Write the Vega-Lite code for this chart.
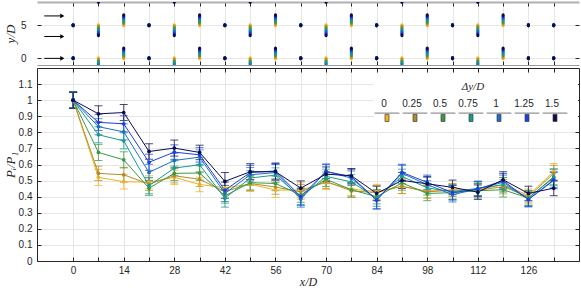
{
  "$schema": "https://vega.github.io/schema/vega-lite/v6.json",
  "padding": {"left": 4, "top": 1, "right": 0, "bottom": 0},
  "background": "white",
  "spacing": 1,
  "config": {
    "view": {"stroke": null},
    "font": "Liberation Sans",
    "axis": {
      "labelFont": "Liberation Sans", "labelFontSize": 10, "labelColor": "#262626",
      "tickColor": "#262626", "domainColor": "#262626", "gridColor": "#e6e6e6",
      "titleFont": "Liberation Serif", "titleFontStyle": "italic", "titleFontWeight": "normal",
      "titleFontSize": 13, "titleColor": "#262626", "tickSize": -4, "domainWidth": 1, "tickWidth": 1,
      "labelOverlap": false
    }
  },
  "resolve": {"scale": {"color": "independent"}, "legend": {"color": "independent"}},
  "datasets": {
    "cyl": [
      {"x":0,"s":"0","y":0},{"x":0,"s":"0","y":5},{"x":7,"s":"0","y":0},{"x":7,"s":"0","y":5},{"x":14,"s":"0","y":0},{"x":14,"s":"0","y":5},{"x":21,"s":"0","y":0},{"x":21,"s":"0","y":5},{"x":28,"s":"0","y":0},{"x":28,"s":"0","y":5},{"x":35,"s":"0","y":0},{"x":35,"s":"0","y":5},{"x":42,"s":"0","y":0},{"x":42,"s":"0","y":5},{"x":49,"s":"0","y":0},{"x":49,"s":"0","y":5},{"x":56,"s":"0","y":0},{"x":56,"s":"0","y":5},{"x":63,"s":"0","y":0},{"x":63,"s":"0","y":5},{"x":70,"s":"0","y":0},{"x":70,"s":"0","y":5},{"x":77,"s":"0","y":0},{"x":77,"s":"0","y":5},{"x":84,"s":"0","y":0},{"x":84,"s":"0","y":5},{"x":91,"s":"0","y":0},{"x":91,"s":"0","y":5},{"x":98,"s":"0","y":0},{"x":98,"s":"0","y":5},{"x":105,"s":"0","y":0},{"x":105,"s":"0","y":5},{"x":112,"s":"0","y":0},{"x":112,"s":"0","y":5},{"x":119,"s":"0","y":0},{"x":119,"s":"0","y":5},{"x":126,"s":"0","y":0},{"x":126,"s":"0","y":5},{"x":133,"s":"0","y":0},{"x":133,"s":"0","y":5},
      {"x":0,"s":"0.25","y":0},{"x":0,"s":"0.25","y":5},{"x":7,"s":"0.25","y":-0.25},{"x":7,"s":"0.25","y":4.75},{"x":14,"s":"0.25","y":0.25},{"x":14,"s":"0.25","y":5.25},{"x":21,"s":"0.25","y":0},{"x":21,"s":"0.25","y":5},{"x":28,"s":"0.25","y":-0.25},{"x":28,"s":"0.25","y":4.75},{"x":35,"s":"0.25","y":0.25},{"x":35,"s":"0.25","y":5.25},{"x":42,"s":"0.25","y":0},{"x":42,"s":"0.25","y":5},{"x":49,"s":"0.25","y":-0.25},{"x":49,"s":"0.25","y":4.75},{"x":56,"s":"0.25","y":0.25},{"x":56,"s":"0.25","y":5.25},{"x":63,"s":"0.25","y":0},{"x":63,"s":"0.25","y":5},{"x":70,"s":"0.25","y":-0.25},{"x":70,"s":"0.25","y":4.75},{"x":77,"s":"0.25","y":0.25},{"x":77,"s":"0.25","y":5.25},{"x":84,"s":"0.25","y":0},{"x":84,"s":"0.25","y":5},{"x":91,"s":"0.25","y":-0.25},{"x":91,"s":"0.25","y":4.75},{"x":98,"s":"0.25","y":0.25},{"x":98,"s":"0.25","y":5.25},{"x":105,"s":"0.25","y":0},{"x":105,"s":"0.25","y":5},{"x":112,"s":"0.25","y":-0.25},{"x":112,"s":"0.25","y":4.75},{"x":119,"s":"0.25","y":0.25},{"x":119,"s":"0.25","y":5.25},{"x":126,"s":"0.25","y":0},{"x":126,"s":"0.25","y":5},{"x":133,"s":"0.25","y":0},{"x":133,"s":"0.25","y":5},
      {"x":0,"s":"0.5","y":0},{"x":0,"s":"0.5","y":5},{"x":7,"s":"0.5","y":-0.5},{"x":7,"s":"0.5","y":4.5},{"x":14,"s":"0.5","y":0.5},{"x":14,"s":"0.5","y":5.5},{"x":21,"s":"0.5","y":0},{"x":21,"s":"0.5","y":5},{"x":28,"s":"0.5","y":-0.5},{"x":28,"s":"0.5","y":4.5},{"x":35,"s":"0.5","y":0.5},{"x":35,"s":"0.5","y":5.5},{"x":42,"s":"0.5","y":0},{"x":42,"s":"0.5","y":5},{"x":49,"s":"0.5","y":-0.5},{"x":49,"s":"0.5","y":4.5},{"x":56,"s":"0.5","y":0.5},{"x":56,"s":"0.5","y":5.5},{"x":63,"s":"0.5","y":0},{"x":63,"s":"0.5","y":5},{"x":70,"s":"0.5","y":-0.5},{"x":70,"s":"0.5","y":4.5},{"x":77,"s":"0.5","y":0.5},{"x":77,"s":"0.5","y":5.5},{"x":84,"s":"0.5","y":0},{"x":84,"s":"0.5","y":5},{"x":91,"s":"0.5","y":-0.5},{"x":91,"s":"0.5","y":4.5},{"x":98,"s":"0.5","y":0.5},{"x":98,"s":"0.5","y":5.5},{"x":105,"s":"0.5","y":0},{"x":105,"s":"0.5","y":5},{"x":112,"s":"0.5","y":-0.5},{"x":112,"s":"0.5","y":4.5},{"x":119,"s":"0.5","y":0.5},{"x":119,"s":"0.5","y":5.5},{"x":126,"s":"0.5","y":0},{"x":126,"s":"0.5","y":5},{"x":133,"s":"0.5","y":0},{"x":133,"s":"0.5","y":5},
      {"x":0,"s":"0.75","y":0},{"x":0,"s":"0.75","y":5},{"x":7,"s":"0.75","y":-0.75},{"x":7,"s":"0.75","y":4.25},{"x":14,"s":"0.75","y":0.75},{"x":14,"s":"0.75","y":5.75},{"x":21,"s":"0.75","y":0},{"x":21,"s":"0.75","y":5},{"x":28,"s":"0.75","y":-0.75},{"x":28,"s":"0.75","y":4.25},{"x":35,"s":"0.75","y":0.75},{"x":35,"s":"0.75","y":5.75},{"x":42,"s":"0.75","y":0},{"x":42,"s":"0.75","y":5},{"x":49,"s":"0.75","y":-0.75},{"x":49,"s":"0.75","y":4.25},{"x":56,"s":"0.75","y":0.75},{"x":56,"s":"0.75","y":5.75},{"x":63,"s":"0.75","y":0},{"x":63,"s":"0.75","y":5},{"x":70,"s":"0.75","y":-0.75},{"x":70,"s":"0.75","y":4.25},{"x":77,"s":"0.75","y":0.75},{"x":77,"s":"0.75","y":5.75},{"x":84,"s":"0.75","y":0},{"x":84,"s":"0.75","y":5},{"x":91,"s":"0.75","y":-0.75},{"x":91,"s":"0.75","y":4.25},{"x":98,"s":"0.75","y":0.75},{"x":98,"s":"0.75","y":5.75},{"x":105,"s":"0.75","y":0},{"x":105,"s":"0.75","y":5},{"x":112,"s":"0.75","y":-0.75},{"x":112,"s":"0.75","y":4.25},{"x":119,"s":"0.75","y":0.75},{"x":119,"s":"0.75","y":5.75},{"x":126,"s":"0.75","y":0},{"x":126,"s":"0.75","y":5},{"x":133,"s":"0.75","y":0},{"x":133,"s":"0.75","y":5},
      {"x":0,"s":"1","y":0},{"x":0,"s":"1","y":5},{"x":7,"s":"1","y":-1},{"x":7,"s":"1","y":4},{"x":14,"s":"1","y":1},{"x":14,"s":"1","y":6},{"x":21,"s":"1","y":0},{"x":21,"s":"1","y":5},{"x":28,"s":"1","y":-1},{"x":28,"s":"1","y":4},{"x":35,"s":"1","y":1},{"x":35,"s":"1","y":6},{"x":42,"s":"1","y":0},{"x":42,"s":"1","y":5},{"x":49,"s":"1","y":-1},{"x":49,"s":"1","y":4},{"x":56,"s":"1","y":1},{"x":56,"s":"1","y":6},{"x":63,"s":"1","y":0},{"x":63,"s":"1","y":5},{"x":70,"s":"1","y":-1},{"x":70,"s":"1","y":4},{"x":77,"s":"1","y":1},{"x":77,"s":"1","y":6},{"x":84,"s":"1","y":0},{"x":84,"s":"1","y":5},{"x":91,"s":"1","y":-1},{"x":91,"s":"1","y":4},{"x":98,"s":"1","y":1},{"x":98,"s":"1","y":6},{"x":105,"s":"1","y":0},{"x":105,"s":"1","y":5},{"x":112,"s":"1","y":-1},{"x":112,"s":"1","y":4},{"x":119,"s":"1","y":1},{"x":119,"s":"1","y":6},{"x":126,"s":"1","y":0},{"x":126,"s":"1","y":5},{"x":133,"s":"1","y":0},{"x":133,"s":"1","y":5},
      {"x":0,"s":"1.25","y":0},{"x":0,"s":"1.25","y":5},{"x":7,"s":"1.25","y":3.75},{"x":7,"s":"1.25","y":8.75},{"x":14,"s":"1.25","y":1.25},{"x":14,"s":"1.25","y":6.25},{"x":21,"s":"1.25","y":0},{"x":21,"s":"1.25","y":5},{"x":28,"s":"1.25","y":3.75},{"x":28,"s":"1.25","y":8.75},{"x":35,"s":"1.25","y":1.25},{"x":35,"s":"1.25","y":6.25},{"x":42,"s":"1.25","y":0},{"x":42,"s":"1.25","y":5},{"x":49,"s":"1.25","y":3.75},{"x":49,"s":"1.25","y":8.75},{"x":56,"s":"1.25","y":1.25},{"x":56,"s":"1.25","y":6.25},{"x":63,"s":"1.25","y":0},{"x":63,"s":"1.25","y":5},{"x":70,"s":"1.25","y":3.75},{"x":70,"s":"1.25","y":8.75},{"x":77,"s":"1.25","y":1.25},{"x":77,"s":"1.25","y":6.25},{"x":84,"s":"1.25","y":0},{"x":84,"s":"1.25","y":5},{"x":91,"s":"1.25","y":3.75},{"x":91,"s":"1.25","y":8.75},{"x":98,"s":"1.25","y":1.25},{"x":98,"s":"1.25","y":6.25},{"x":105,"s":"1.25","y":0},{"x":105,"s":"1.25","y":5},{"x":112,"s":"1.25","y":3.75},{"x":112,"s":"1.25","y":8.75},{"x":119,"s":"1.25","y":1.25},{"x":119,"s":"1.25","y":6.25},{"x":126,"s":"1.25","y":0},{"x":126,"s":"1.25","y":5},{"x":133,"s":"1.25","y":0},{"x":133,"s":"1.25","y":5},
      {"x":0,"s":"1.5","y":0},{"x":0,"s":"1.5","y":5},{"x":7,"s":"1.5","y":3.5},{"x":7,"s":"1.5","y":8.5},{"x":14,"s":"1.5","y":1.5},{"x":14,"s":"1.5","y":6.5},{"x":21,"s":"1.5","y":0},{"x":21,"s":"1.5","y":5},{"x":28,"s":"1.5","y":3.5},{"x":28,"s":"1.5","y":8.5},{"x":35,"s":"1.5","y":1.5},{"x":35,"s":"1.5","y":6.5},{"x":42,"s":"1.5","y":0},{"x":42,"s":"1.5","y":5},{"x":49,"s":"1.5","y":3.5},{"x":49,"s":"1.5","y":8.5},{"x":56,"s":"1.5","y":1.5},{"x":56,"s":"1.5","y":6.5},{"x":63,"s":"1.5","y":0},{"x":63,"s":"1.5","y":5},{"x":70,"s":"1.5","y":3.5},{"x":70,"s":"1.5","y":8.5},{"x":77,"s":"1.5","y":1.5},{"x":77,"s":"1.5","y":6.5},{"x":84,"s":"1.5","y":0},{"x":84,"s":"1.5","y":5},{"x":91,"s":"1.5","y":3.5},{"x":91,"s":"1.5","y":8.5},{"x":98,"s":"1.5","y":1.5},{"x":98,"s":"1.5","y":6.5},{"x":105,"s":"1.5","y":0},{"x":105,"s":"1.5","y":5},{"x":112,"s":"1.5","y":3.5},{"x":112,"s":"1.5","y":8.5},{"x":119,"s":"1.5","y":1.5},{"x":119,"s":"1.5","y":6.5},{"x":126,"s":"1.5","y":0},{"x":126,"s":"1.5","y":5},{"x":133,"s":"1.5","y":0},{"x":133,"s":"1.5","y":5}
    ],
    "arrows": [
      {"xa": -8, "xb": -3, "y": 6.4},
      {"xa": -8, "xb": -3, "y": 3.3},
      {"xa": -8, "xb": -3, "y": 0}
    ],
    "meas": [
      {"s":"0","x":0,"y":1.0,"e":0.05},{"s":"0","x":7,"y":0.52,"e":0.05},{"s":"0","x":14,"y":0.493,"e":0.046},{"s":"0","x":21,"y":0.49,"e":0.04},{"s":"0","x":28,"y":0.52,"e":0.045},{"s":"0","x":35,"y":0.476,"e":0.045},{"s":"0","x":42,"y":0.455,"e":0.04},{"s":"0","x":49,"y":0.478,"e":0.045},{"s":"0","x":56,"y":0.441,"e":0.045},{"s":"0","x":63,"y":0.441,"e":0.045},{"s":"0","x":70,"y":0.489,"e":0.045},{"s":"0","x":77,"y":0.447,"e":0.04},{"s":"0","x":84,"y":0.432,"e":0.045},{"s":"0","x":91,"y":0.464,"e":0.045},{"s":"0","x":98,"y":0.435,"e":0.04},{"s":"0","x":105,"y":0.443,"e":0.04},{"s":"0","x":112,"y":0.443,"e":0.04},{"s":"0","x":119,"y":0.475,"e":0.045},{"s":"0","x":126,"y":0.408,"e":0.04},{"s":"0","x":133,"y":0.556,"e":0.05},
      {"s":"0.25","x":0,"y":1.0,"e":0.05},{"s":"0.25","x":7,"y":0.545,"e":0.045},{"s":"0.25","x":14,"y":0.536,"e":0.046},{"s":"0.25","x":21,"y":0.478,"e":0.04},{"s":"0.25","x":28,"y":0.53,"e":0.045},{"s":"0.25","x":35,"y":0.508,"e":0.045},{"s":"0.25","x":42,"y":0.43,"e":0.04},{"s":"0.25","x":49,"y":0.482,"e":0.045},{"s":"0.25","x":56,"y":0.46,"e":0.045},{"s":"0.25","x":63,"y":0.43,"e":0.045},{"s":"0.25","x":70,"y":0.495,"e":0.045},{"s":"0.25","x":77,"y":0.436,"e":0.04},{"s":"0.25","x":84,"y":0.425,"e":0.045},{"s":"0.25","x":91,"y":0.465,"e":0.045},{"s":"0.25","x":98,"y":0.43,"e":0.04},{"s":"0.25","x":105,"y":0.44,"e":0.04},{"s":"0.25","x":112,"y":0.44,"e":0.04},{"s":"0.25","x":119,"y":0.462,"e":0.045},{"s":"0.25","x":126,"y":0.40,"e":0.04},{"s":"0.25","x":133,"y":0.545,"e":0.05},
      {"s":"0.5","x":0,"y":1.0,"e":0.05},{"s":"0.5","x":7,"y":0.675,"e":0.05},{"s":"0.5","x":14,"y":0.629,"e":0.05},{"s":"0.5","x":21,"y":0.453,"e":0.045},{"s":"0.5","x":28,"y":0.545,"e":0.045},{"s":"0.5","x":35,"y":0.547,"e":0.045},{"s":"0.5","x":42,"y":0.405,"e":0.045},{"s":"0.5","x":49,"y":0.487,"e":0.045},{"s":"0.5","x":56,"y":0.482,"e":0.045},{"s":"0.5","x":63,"y":0.41,"e":0.045},{"s":"0.5","x":70,"y":0.508,"e":0.045},{"s":"0.5","x":77,"y":0.443,"e":0.045},{"s":"0.5","x":84,"y":0.40,"e":0.045},{"s":"0.5","x":91,"y":0.485,"e":0.045},{"s":"0.5","x":98,"y":0.42,"e":0.045},{"s":"0.5","x":105,"y":0.425,"e":0.045},{"s":"0.5","x":112,"y":0.437,"e":0.045},{"s":"0.5","x":119,"y":0.443,"e":0.045},{"s":"0.5","x":126,"y":0.392,"e":0.045},{"s":"0.5","x":133,"y":0.518,"e":0.05},
      {"s":"0.75","x":0,"y":1.0,"e":0.05},{"s":"0.75","x":7,"y":0.785,"e":0.05},{"s":"0.75","x":14,"y":0.747,"e":0.05},{"s":"0.75","x":21,"y":0.468,"e":0.05},{"s":"0.75","x":28,"y":0.578,"e":0.045},{"s":"0.75","x":35,"y":0.598,"e":0.045},{"s":"0.75","x":42,"y":0.39,"e":0.055},{"s":"0.75","x":49,"y":0.516,"e":0.045},{"s":"0.75","x":56,"y":0.534,"e":0.045},{"s":"0.75","x":63,"y":0.395,"e":0.05},{"s":"0.75","x":70,"y":0.526,"e":0.045},{"s":"0.75","x":77,"y":0.492,"e":0.045},{"s":"0.75","x":84,"y":0.39,"e":0.05},{"s":"0.75","x":91,"y":0.526,"e":0.045},{"s":"0.75","x":98,"y":0.455,"e":0.045},{"s":"0.75","x":105,"y":0.43,"e":0.045},{"s":"0.75","x":112,"y":0.452,"e":0.045},{"s":"0.75","x":119,"y":0.474,"e":0.045},{"s":"0.75","x":126,"y":0.39,"e":0.045},{"s":"0.75","x":133,"y":0.524,"e":0.05},
      {"s":"1","x":0,"y":1.0,"e":0.05},{"s":"1","x":7,"y":0.835,"e":0.05},{"s":"1","x":14,"y":0.803,"e":0.05},{"s":"1","x":21,"y":0.551,"e":0.05},{"s":"1","x":28,"y":0.625,"e":0.045},{"s":"1","x":35,"y":0.646,"e":0.045},{"s":"1","x":42,"y":0.42,"e":0.05},{"s":"1","x":49,"y":0.536,"e":0.045},{"s":"1","x":56,"y":0.55,"e":0.05},{"s":"1","x":63,"y":0.385,"e":0.05},{"s":"1","x":70,"y":0.558,"e":0.045},{"s":"1","x":77,"y":0.515,"e":0.045},{"s":"1","x":84,"y":0.38,"e":0.055},{"s":"1","x":91,"y":0.545,"e":0.05},{"s":"1","x":98,"y":0.475,"e":0.045},{"s":"1","x":105,"y":0.412,"e":0.045},{"s":"1","x":112,"y":0.45,"e":0.045},{"s":"1","x":119,"y":0.489,"e":0.045},{"s":"1","x":126,"y":0.383,"e":0.045},{"s":"1","x":133,"y":0.50,"e":0.05},
      {"s":"1.25","x":0,"y":1.0,"e":0.05},{"s":"1.25","x":7,"y":0.862,"e":0.05},{"s":"1.25","x":14,"y":0.853,"e":0.05},{"s":"1.25","x":21,"y":0.614,"e":0.05},{"s":"1.25","x":28,"y":0.677,"e":0.045},{"s":"1.25","x":35,"y":0.66,"e":0.045},{"s":"1.25","x":42,"y":0.44,"e":0.05},{"s":"1.25","x":49,"y":0.55,"e":0.045},{"s":"1.25","x":56,"y":0.56,"e":0.05},{"s":"1.25","x":63,"y":0.40,"e":0.05},{"s":"1.25","x":70,"y":0.556,"e":0.045},{"s":"1.25","x":77,"y":0.525,"e":0.045},{"s":"1.25","x":84,"y":0.378,"e":0.055},{"s":"1.25","x":91,"y":0.551,"e":0.05},{"s":"1.25","x":98,"y":0.489,"e":0.045},{"s":"1.25","x":105,"y":0.425,"e":0.045},{"s":"1.25","x":112,"y":0.447,"e":0.045},{"s":"1.25","x":119,"y":0.499,"e":0.045},{"s":"1.25","x":126,"y":0.382,"e":0.045},{"s":"1.25","x":133,"y":0.505,"e":0.05},
      {"s":"1.5","x":0,"y":1.0,"e":0.05},{"s":"1.5","x":7,"y":0.915,"e":0.05},{"s":"1.5","x":14,"y":0.923,"e":0.05},{"s":"1.5","x":21,"y":0.681,"e":0.048},{"s":"1.5","x":28,"y":0.702,"e":0.05},{"s":"1.5","x":35,"y":0.675,"e":0.045},{"s":"1.5","x":42,"y":0.495,"e":0.055},{"s":"1.5","x":49,"y":0.555,"e":0.05},{"s":"1.5","x":56,"y":0.555,"e":0.05},{"s":"1.5","x":63,"y":0.453,"e":0.045},{"s":"1.5","x":70,"y":0.54,"e":0.045},{"s":"1.5","x":77,"y":0.53,"e":0.045},{"s":"1.5","x":84,"y":0.42,"e":0.045},{"s":"1.5","x":91,"y":0.501,"e":0.05},{"s":"1.5","x":98,"y":0.48,"e":0.045},{"s":"1.5","x":105,"y":0.458,"e":0.045},{"s":"1.5","x":112,"y":0.428,"e":0.045},{"s":"1.5","x":119,"y":0.505,"e":0.05},{"s":"1.5","x":126,"y":0.42,"e":0.045},{"s":"1.5","x":133,"y":0.453,"e":0.047}
    ]
  },
  "vconcat": [
    {
      "width": 542,
      "height": 63,
      "layer": [
        {
          "data": {"name": "cyl"},
          "mark": {"type": "point", "filled": true, "clip": true, "opacity": 1,
                   "shape": "M-0.8,0A0.8,1,0,1,0,0.8,0A0.8,1,0,1,0,-0.8,0Z", "size": 16},
          "encoding": {
            "x": {"field": "x", "type": "quantitative",
                  "scale": {"domain": [-10, 140], "nice": false, "zero": false},
                  "axis": {"orient": "bottom", "values": [0,7,14,21,28,35,42,49,56,63,70,77,84,91,98,105,112,119,126,133],
                           "labels": false, "grid": true, "title": null, "domainColor": "#9a9a9a"}},
            "y": {"field": "y", "type": "quantitative",
                  "scale": {"domain": [-1, 8.5], "nice": false, "zero": false},
                  "axis": {"orient": "left", "values": [0, 5], "grid": true, "domain": false,
                           "title": "y/D", "labelPadding": 15, "titlePadding": 3}},
            "color": {"field": "s", "type": "nominal",
                      "scale": {"domain": ["0","0.25","0.5","0.75","1","1.25","1.5"],
                                "range": ["#F2B01E","#B38C2A","#3A9A3F","#159A8E","#1C6FC6","#1B3FE0","#0C0C4E"]},
                      "legend": null}
          }
        },
        {
          "data": {"name": "arrows"},
          "mark": {"type": "rule", "color": "#000000", "strokeWidth": 1},
          "encoding": {
            "x": {"field": "xa", "type": "quantitative",
                  "scale": {"domain": [-10, 140], "nice": false, "zero": false},
                  "axis": {"orient": "top", "values": [0,7,14,21,28,35,42,49,56,63,70,77,84,91,98,105,112,119,126,133],
                           "labels": false, "grid": false, "title": null, "domainColor": "#b0b0b0", "domainWidth": 2}},
            "x2": {"field": "xb"},
            "y": {"field": "y", "type": "quantitative",
                  "scale": {"domain": [-1, 8.5], "nice": false, "zero": false},
                  "axis": {"orient": "right", "values": [0, 5], "labels": false, "grid": false, "domain": false, "title": null}}
          }
        },
        {
          "data": {"name": "arrows"},
          "mark": {"type": "point", "shape": "triangle-right", "filled": true, "color": "#000000", "size": 22, "opacity": 1},
          "encoding": {
            "x": {"field": "xb", "type": "quantitative", "scale": {"domain": [-10, 140], "nice": false, "zero": false}, "axis": null},
            "y": {"field": "y", "type": "quantitative", "scale": {"domain": [-1, 8.5], "nice": false, "zero": false}, "axis": null}
          }
        }
      ],
      "resolve": {"axis": {"x": "independent", "y": "independent"}}
    },
    {
      "width": 542,
      "height": 193,
      "data": {"name": "meas"},
      "layer": [
        {
          "mark": {"type": "errorbar", "ticks": {"size": 8}, "thickness": 1, "opacity": 0.75},
          "encoding": {
            "x": {"field": "x", "type": "quantitative", "scale": {"domain": [-10, 140], "nice": false, "zero": false}, "axis": null},
            "y": {"field": "y", "type": "quantitative", "scale": {"domain": [0, 1.2], "nice": false, "zero": true}, "axis": null},
            "yError": {"field": "e"},
            "color": {"field": "s", "type": "nominal",
                      "scale": {"domain": ["0","0.25","0.5","0.75","1","1.25","1.5"],
                                "range": ["#F2B01E","#B38C2A","#3A9A3F","#159A8E","#1C6FC6","#1B3FE0","#0C0C4E"]},
                      "legend": null}
          }
        },
        {
          "mark": {"type": "line", "strokeWidth": 1},
          "encoding": {
            "x": {"field": "x", "type": "quantitative", "scale": {"domain": [-10, 140], "nice": false, "zero": false},
                  "axis": {"orient": "bottom", "values": [0,7,14,21,28,35,42,49,56,63,70,77,84,91,98,105,112,119,126,133],
                           "labelExpr": "datum.value % 14 === 0 ? datum.label : ''",
                           "grid": true, "title": "x/D", "titleFontSize": 12, "labelPadding": 8, "titlePadding": 1}},
            "y": {"field": "y", "type": "quantitative", "scale": {"domain": [0, 1.2], "nice": false, "zero": true},
                  "axis": {"orient": "left", "values": [0,0.1,0.2,0.3,0.4,0.5,0.6,0.7,0.8,0.9,1,1.1], "format": "~g",
                           "grid": true, "title": "Pᵢ/P₁", "labelPadding": 9, "titlePadding": 1}},
            "color": {"field": "s", "type": "nominal",
                      "scale": {"domain": ["0","0.25","0.5","0.75","1","1.25","1.5"],
                                "range": ["#F2B01E","#B38C2A","#3A9A3F","#159A8E","#1C6FC6","#1B3FE0","#0C0C4E"]},
                      "legend": null}
          }
        },
        {
          "mark": {"type": "point", "filled": true, "size": 14, "opacity": 1},
          "encoding": {
            "x": {"field": "x", "type": "quantitative", "scale": {"domain": [-10, 140], "nice": false, "zero": false},
                  "axis": {"orient": "top", "values": [0,7,14,21,28,35,42,49,56,63,70,77,84,91,98,105,112,119,126,133],
                           "labels": false, "grid": false, "title": null}},
            "y": {"field": "y", "type": "quantitative", "scale": {"domain": [0, 1.2], "nice": false, "zero": true},
                  "axis": {"orient": "right", "values": [0,0.1,0.2,0.3,0.4,0.5,0.6,0.7,0.8,0.9,1,1.1],
                           "labels": false, "grid": false, "title": null}},
            "color": {"field": "s", "type": "nominal",
                      "scale": {"domain": ["0","0.25","0.5","0.75","1","1.25","1.5"],
                                "range": ["#F2B01E","#B38C2A","#3A9A3F","#159A8E","#1C6FC6","#1B3FE0","#0C0C4E"]},
                      "legend": {
                        "orient": "none", "legendX": 337, "legendY": 5,
                        "direction": "horizontal", "columns": 7, "gridAlign": "all",
                        "title": "\u200b\u00a0\u00a0\u00a0\u00a0\u00a0\u00a0\u00a0\u00a0\u00a0\u00a0\u00a0\u00a0\u00a0\u00a0\u00a0\u00a0\u00a0\u00a0\u00a0\u00a0\u00a0\u00a0\u00a0\u00a0\u00a0\u00a0\u00a0\u00a0\u00a0Δy/D",
                        "titleFont": "Liberation Serif", "titleFontStyle": "italic",
                        "titleFontWeight": "normal", "titleFontSize": 11, "titleColor": "#262626",
                        "titleAnchor": "start", "titleAlign": "left", "titlePadding": 12,
                        "labelFont": "Liberation Sans", "labelFontSize": 10, "labelColor": "#262626",
                        "labelAlign": "center", "labelBaseline": "bottom", "labelOffset": -8,
                        "symbolType": "M-3.1,1H3.1M-0.5,1.3H0.5V3.1H-0.5Z", "symbolSize": 64,
                        "symbolStrokeColor": "#404040", "symbolStrokeWidth": 0.7, "symbolOpacity": 1,
                        "fillColor": "white", "strokeColor": "#ffffff",
                        "padding": 8, "columnPadding": 0, "rowPadding": 0
                      }}
          }
        }
      ],
      "resolve": {"axis": {"x": "independent", "y": "independent"}, "legend": {"color": "independent"}}
    }
  ]
}
